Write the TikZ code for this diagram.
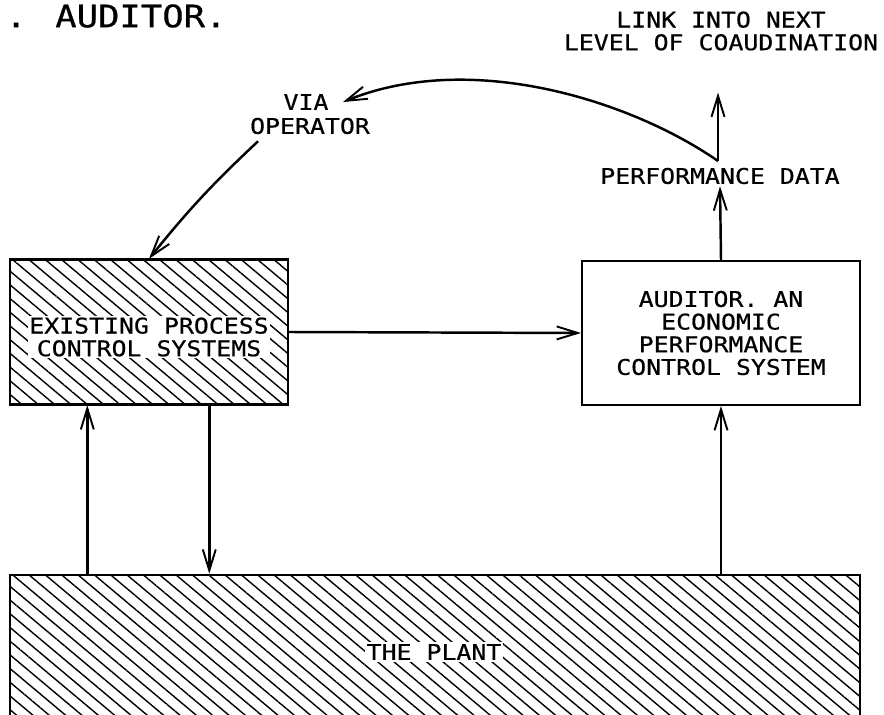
\documentclass[tikz,border=0pt]{standalone}
\usepackage{fontspec}
\usepackage{tikz}
\usetikzlibrary{arrows.meta,patterns.meta,positioning}
\newfontfamily\plotfont[FakeStretch=1.15,FakeBold=0.6]{DejaVu Sans Mono}

\begin{document}
\begin{tikzpicture}[x=0.02cm,y=-0.02cm,
  every node/.style={font=\plotfont\fontsize{12.3}{12.9}\selectfont,inner sep=1pt},
  arr/.style={line width=1.4pt,-{Straight Barb[length=0.42cm,width=0.26cm,line width=1.1pt]}},
  hatchbox/.style={draw,line width=1.5pt,inner sep=0pt,
    pattern={Lines[angle=-40,distance=0.21cm,line width=0.8pt]}},
  plainbox/.style={draw,line width=1.2pt,inner sep=0pt}]
  \useasboundingbox (0,0) rectangle (884,715);
  \clip (0,0) rectangle (884,715);
  \node[anchor=west,inner sep=0pt,font=\plotfont\fontsize{17.6}{20}\selectfont] (title) at (5,16) {. AUDITOR.};
  \node[align=center] (link) at (721,31) {LINK INTO NEXT\\LEVEL OF COAUDINATION};
  \node (perf) at (720,176) {PERFORMANCE DATA};
  \node (via) at (306,102) {VIA};
  \node (oper) at (310,126) {OPERATOR};
  \node[hatchbox,minimum width=5.56cm,minimum height=2.9cm] (pcs) at (149,332) {};
  \node[fill=white,align=center] (pcstext) at (149,337) {EXISTING PROCESS\\CONTROL SYSTEMS};
  \node[plainbox,minimum width=5.56cm,minimum height=2.88cm,align=center] (aud) at (721,333)
    {AUDITOR. AN\\ECONOMIC\\PERFORMANCE\\CONTROL SYSTEM};
  \node[hatchbox,minimum width=17cm,minimum height=3cm] (plant) at (435,650) {};
  \node[fill=white] (planttext) at (434,652) {THE PLANT};
  \coordinate (upL) at ([xshift=1.56cm]pcs.south west);
  \coordinate (dnL) at ([xshift=4cm]pcs.south west);
  \coordinate (kink) at (718,161);
  \draw[arr] (pcs.east) -- (aud.west);
  \draw[arr] (upL |- plant.north) -- (upL);
  \draw[arr] (dnL) -- (dnL |- plant.north);
  \draw[arr] (aud.south |- plant.north) -- (aud.south);
  \draw[arr] (aud.north) -- (perf.south);
  \draw[arr,shorten >=0.8cm] (kink) -- (kink |- link.south);
  \draw[arr] (kink) .. controls (630,100) and (470,50) .. ([xshift=0.25cm]via.east);
  \draw[arr] ([xshift=0.2cm,yshift=-0.1cm]oper.south west) to[bend right=4] (pcs.north);
\end{tikzpicture}
\end{document}
